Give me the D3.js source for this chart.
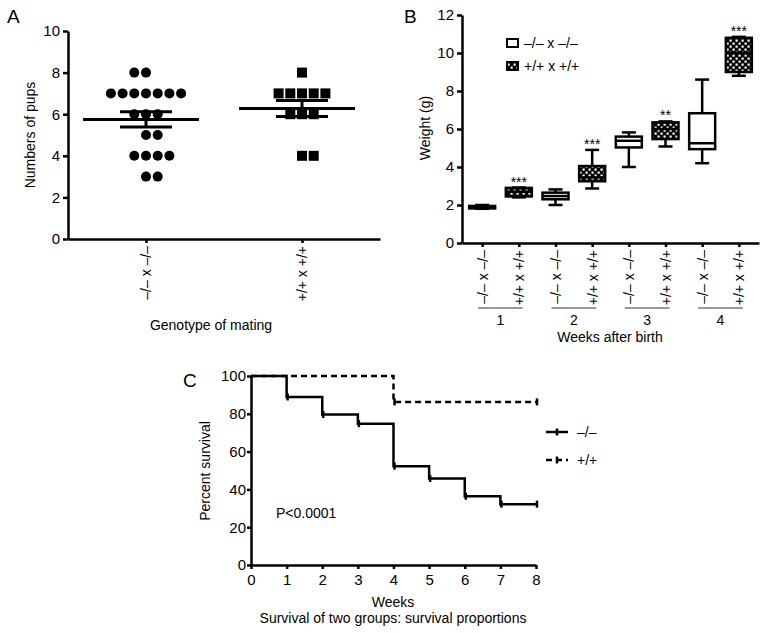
<!DOCTYPE html>
<html>
<head>
<meta charset="utf-8">
<script src="https://cdn.jsdelivr.net/npm/d3@7"></script>
<style>
  body { margin: 0; background: #fff; }
  svg text { font-family: "Liberation Sans", Arial, sans-serif; fill: #000; }
  .axis path, .axis line { stroke: #000; stroke-width: 2.5; }
  .axis text { font-size: 15px; }
</style>
</head>
<body>
<svg id="chart" width="765" height="633"></svg>
<script>
// ---- data ----
const genotypes = ['–/– x –/–', '+/+ x +/+'];
const pupsKO = [8, 8, 7, 7, 7, 7, 7, 7, 7, 6, 6, 6, 5, 5, 4, 4, 4, 4, 3, 3];
const pupsWT = [8, 7, 7, 7, 7, 7, 6, 6, 6, 4, 4];

const weekLabels = ['1', '2', '3', '4'];
// [min, q1, median, q3, max] per week
const weightKO = [
  [1.8, 1.82, 1.88, 1.95, 2.0],
  [2.0, 2.3, 2.47, 2.65, 2.82],
  [4.0, 5.03, 5.38, 5.6, 5.82],
  [4.2, 4.94, 5.25, 6.83, 8.6]
];
const weightWT = [
  [2.4, 2.45, 2.7, 2.9, 2.92],
  [2.87, 3.25, 3.45, 4.05, 4.9],
  [5.08, 5.47, 6.0, 6.35, 6.4],
  [8.8, 9.0, 10.0, 10.8, 10.85]
];
const stars = ['***', '***', '**', '***'];

const weeks = [0, 1, 2, 3, 4, 5, 6, 7, 8];
const survKO = [100, 88.9, 79.6, 74.8, 52.3, 45.8, 36.4, 32.2, 32.2];
const survWT = [100, 100, 100, 100, 86.3, 86.3, 86.3, 86.3, 86.3];

const svg = d3.select('#chart');

// checker pattern for +/+ boxes
const pat = svg.append('defs').append('pattern')
  .attr('id', 'checker').attr('patternUnits', 'userSpaceOnUse')
  .attr('width', 6).attr('height', 6);
pat.append('rect').attr('width', 6).attr('height', 6).attr('fill', '#000');
pat.append('rect').attr('x', 0.5).attr('y', 0.5).attr('width', 2.2).attr('height', 2.2).attr('fill', '#fff');
pat.append('rect').attr('x', 3.5).attr('y', 3.5).attr('width', 2.2).attr('height', 2.2).attr('fill', '#fff');

// panel letters
svg.append('text').attr('x', 7).attr('y', 23).attr('font-size', 19).text('A');
svg.append('text').attr('x', 404).attr('y', 23).attr('font-size', 19).text('B');
svg.append('text').attr('x', 183).attr('y', 387).attr('font-size', 19).text('C');

// ================= Panel A =================
const yA = d3.scaleLinear().domain([0, 10]).range([239, 31]);
const xA = d3.scalePoint().domain(genotypes).range([68, 380]).padding(0.5);

const gA = svg.append('g');
gA.append('g').attr('class', 'axis').attr('transform', 'translate(68,0)')
  .call(d3.axisLeft(yA).ticks(5).tickSize(5).tickSizeOuter(0));
gA.append('g').attr('class', 'axis').attr('transform', 'translate(0,239)')
  .call(d3.axisBottom(xA).tickSize(4).tickSizeOuter(0))
  .selectAll('text')
  .attr('transform', 'rotate(-90)')
  .attr('text-anchor', 'end')
  .attr('x', -7).attr('y', 0).attr('dy', '0.35em')
  .style('font-size', '14px');

gA.append('text').attr('transform', 'translate(35,135) rotate(-90)')
  .attr('text-anchor', 'middle').attr('font-size', 14).text('Numbers of pups');
gA.append('text').attr('x', 211).attr('y', 330)
  .attr('text-anchor', 'middle').attr('font-size', 14).text('Genotype of mating');

const dotStep = 11.7;
function layoutRows(values, mean) {
  const rows = d3.groups(values, v => v);
  const out = [];
  rows.forEach(([v, list]) => {
    const n = list.length;
    let start = -Math.floor(n / 2);
    if (n % 2 === 0 && v < mean) start += 1;
    list.forEach((_, i) => out.push({ v, slot: start + i }));
  });
  return out;
}

[[pupsKO, genotypes[0], 'circle'], [pupsWT, genotypes[1], 'square']].forEach(([vals, cat, shape]) => {
  const mean = d3.mean(vals);
  const sem = d3.deviation(vals) / Math.sqrt(vals.length);
  const cx = xA(cat);
  const pts = layoutRows(vals, mean);
  if (shape === 'circle') {
    gA.selectAll(null).data(pts).enter().append('circle')
      .attr('cx', d => cx + d.slot * dotStep).attr('cy', d => yA(d.v)).attr('r', 5);
  } else {
    gA.selectAll(null).data(pts).enter().append('rect')
      .attr('x', d => cx + d.slot * dotStep - 5).attr('y', d => yA(d.v) - 5)
      .attr('width', 10).attr('height', 10);
  }
  const eg = gA.append('g').attr('stroke', '#000').attr('stroke-width', 3);
  eg.append('line').attr('x1', cx - 63).attr('x2', cx + 53).attr('y1', yA(mean)).attr('y2', yA(mean));
  eg.append('line').attr('x1', cx).attr('x2', cx).attr('y1', yA(mean + sem)).attr('y2', yA(mean - sem));
  [mean + sem, mean - sem].forEach(v => {
    eg.append('line').attr('x1', cx - 26).attr('x2', cx + 26).attr('y1', yA(v)).attr('y2', yA(v));
  });
});

// ================= Panel B =================
const yB = d3.scaleLinear().domain([0, 12]).range([243, 15]);
const boxKeys = [];
weekLabels.forEach(w => { boxKeys.push(w + 'KO'); boxKeys.push(w + 'WT'); });
const xB = d3.scalePoint().domain(boxKeys).range([462, 759]).padding(0.55);

const gB = svg.append('g');
gB.append('g').attr('class', 'axis').attr('transform', 'translate(462,0)')
  .call(d3.axisLeft(yB).ticks(6).tickSize(5).tickSizeOuter(0));
gB.append('g').attr('class', 'axis').attr('transform', 'translate(0,243)')
  .call(d3.axisBottom(xB).tickSize(4).tickSizeOuter(0)
    .tickFormat(k => k.endsWith('KO') ? genotypes[0] : genotypes[1]))
  .selectAll('text')
  .attr('transform', 'rotate(-90)')
  .attr('text-anchor', 'end')
  .attr('x', -7).attr('y', 0).attr('dy', '0.35em')
  .style('font-size', '14px');

gB.append('text').attr('transform', 'translate(430,128) rotate(-90)')
  .attr('text-anchor', 'middle').attr('font-size', 14).text('Weight (g)');

weekLabels.forEach((w, i) => {
  const x1 = xB(w + 'KO') - 4, x2 = xB(w + 'WT') + 4;
  gB.append('line').attr('x1', x1).attr('x2', x2).attr('y1', 308).attr('y2', 308)
    .attr('stroke', '#777').attr('stroke-width', 1.5);
  gB.append('text').attr('x', (x1 + x2) / 2).attr('y', 325)
    .attr('text-anchor', 'middle').attr('font-size', 14).text(w);
});
gB.append('text').attr('x', 610).attr('y', 342)
  .attr('text-anchor', 'middle').attr('font-size', 14).text('Weeks after birth');

const boxW = 26, capW = 14;
function drawBox(d, key, fill) {
  const cx = xB(key);
  const g = gB.append('g').attr('stroke', '#000').attr('stroke-width', 2.5);
  g.append('line').attr('x1', cx).attr('x2', cx).attr('y1', yB(d[0])).attr('y2', yB(d[4]));
  [d[0], d[4]].forEach(v => g.append('line').attr('x1', cx - capW / 2).attr('x2', cx + capW / 2)
    .attr('y1', yB(v)).attr('y2', yB(v)));
  g.append('rect').attr('x', cx - boxW / 2).attr('y', yB(d[3]))
    .attr('width', boxW).attr('height', Math.max(yB(d[1]) - yB(d[3]), 1)).attr('fill', fill);
  g.append('line').attr('x1', cx - boxW / 2).attr('x2', cx + boxW / 2)
    .attr('y1', yB(d[2])).attr('y2', yB(d[2]));
}
weekLabels.forEach((w, i) => {
  drawBox(weightKO[i], w + 'KO', '#fff');
  drawBox(weightWT[i], w + 'WT', 'url(#checker)');
  gB.append('text').attr('x', xB(w + 'WT')).attr('y', yB(weightWT[i][4]) - 1)
    .attr('text-anchor', 'middle').attr('font-size', 14).text(stars[i]);
});

// legend B
const legB = gB.append('g');
[[genotypes[0], '#fff'], [genotypes[1], 'url(#checker)']].forEach(([lab, fill], i) => {
  const y = 43 + i * 23;
  legB.append('rect').attr('x', 507).attr('y', y - 4).attr('width', 11).attr('height', 8)
    .attr('fill', fill).attr('stroke', '#000').attr('stroke-width', 2);
  legB.append('text').attr('x', 524).attr('y', y + 5).attr('font-size', 14).text(lab);
});

// ================= Panel C =================
const xC = d3.scaleLinear().domain([0, 8]).range([251, 536]);
const yC = d3.scaleLinear().domain([0, 100]).range([565, 376]);
const gC = svg.append('g');
gC.append('g').attr('class', 'axis').attr('transform', 'translate(0,565)')
  .call(d3.axisBottom(xC).ticks(8).tickSize(4).tickSizeOuter(0))
  .selectAll('text').attr('dy', '0.85em');
gC.append('g').attr('class', 'axis').attr('transform', 'translate(251,0)')
  .call(d3.axisLeft(yC).ticks(5).tickSize(4).tickSizeOuter(0))
  .selectAll('text').attr('x', -5);

gC.append('text').attr('transform', 'translate(210,471) rotate(-90)')
  .attr('text-anchor', 'middle').attr('font-size', 14).text('Percent survival');
gC.append('text').attr('x', 393).attr('y', 607)
  .attr('text-anchor', 'middle').attr('font-size', 14).text('Weeks');
gC.append('text').attr('x', 393).attr('y', 623)
  .attr('text-anchor', 'middle').attr('font-size', 14).text('Survival of two groups: survival proportions');
gC.append('text').attr('x', 276).attr('y', 518).attr('font-size', 14).text('P<0.0001');

const stepLine = d3.line().curve(d3.curveStepAfter)
  .x((d, i) => xC(weeks[i])).y(d => yC(d));

[[survKO, null], [survWT, '6,4']].forEach(([s, dash]) => {
  gC.append('path').datum(s).attr('d', stepLine).attr('fill', 'none')
    .attr('stroke', '#000').attr('stroke-width', 2.5)
    .attr('stroke-dasharray', dash);
  s.forEach((v, i) => {
    if (i === 0) return;
    if (v < s[i - 1] || i === s.length - 1) {
      gC.append('line').attr('x1', xC(weeks[i]) + 1).attr('x2', xC(weeks[i]) + 1)
        .attr('y1', yC(v) - 3.5).attr('y2', yC(v) + 3.5)
        .attr('stroke', '#000').attr('stroke-width', 2.5);
    }
  });
});

// legend C
[['–/–', null], ['+/+', '6,4']].forEach(([lab, dash], i) => {
  const y = 432 + i * 28;
  gC.append('line').attr('x1', 546).attr('x2', 568).attr('y1', y).attr('y2', y)
    .attr('stroke', '#000').attr('stroke-width', 2.5).attr('stroke-dasharray', dash);
  gC.append('line').attr('x1', 557).attr('x2', 557).attr('y1', y - 3.5).attr('y2', y + 3.5)
    .attr('stroke', '#000').attr('stroke-width', 2.5);
  gC.append('text').attr('x', 577).attr('y', y + 5).attr('font-size', 14).text(lab);
});
</script>
</body>
</html>
